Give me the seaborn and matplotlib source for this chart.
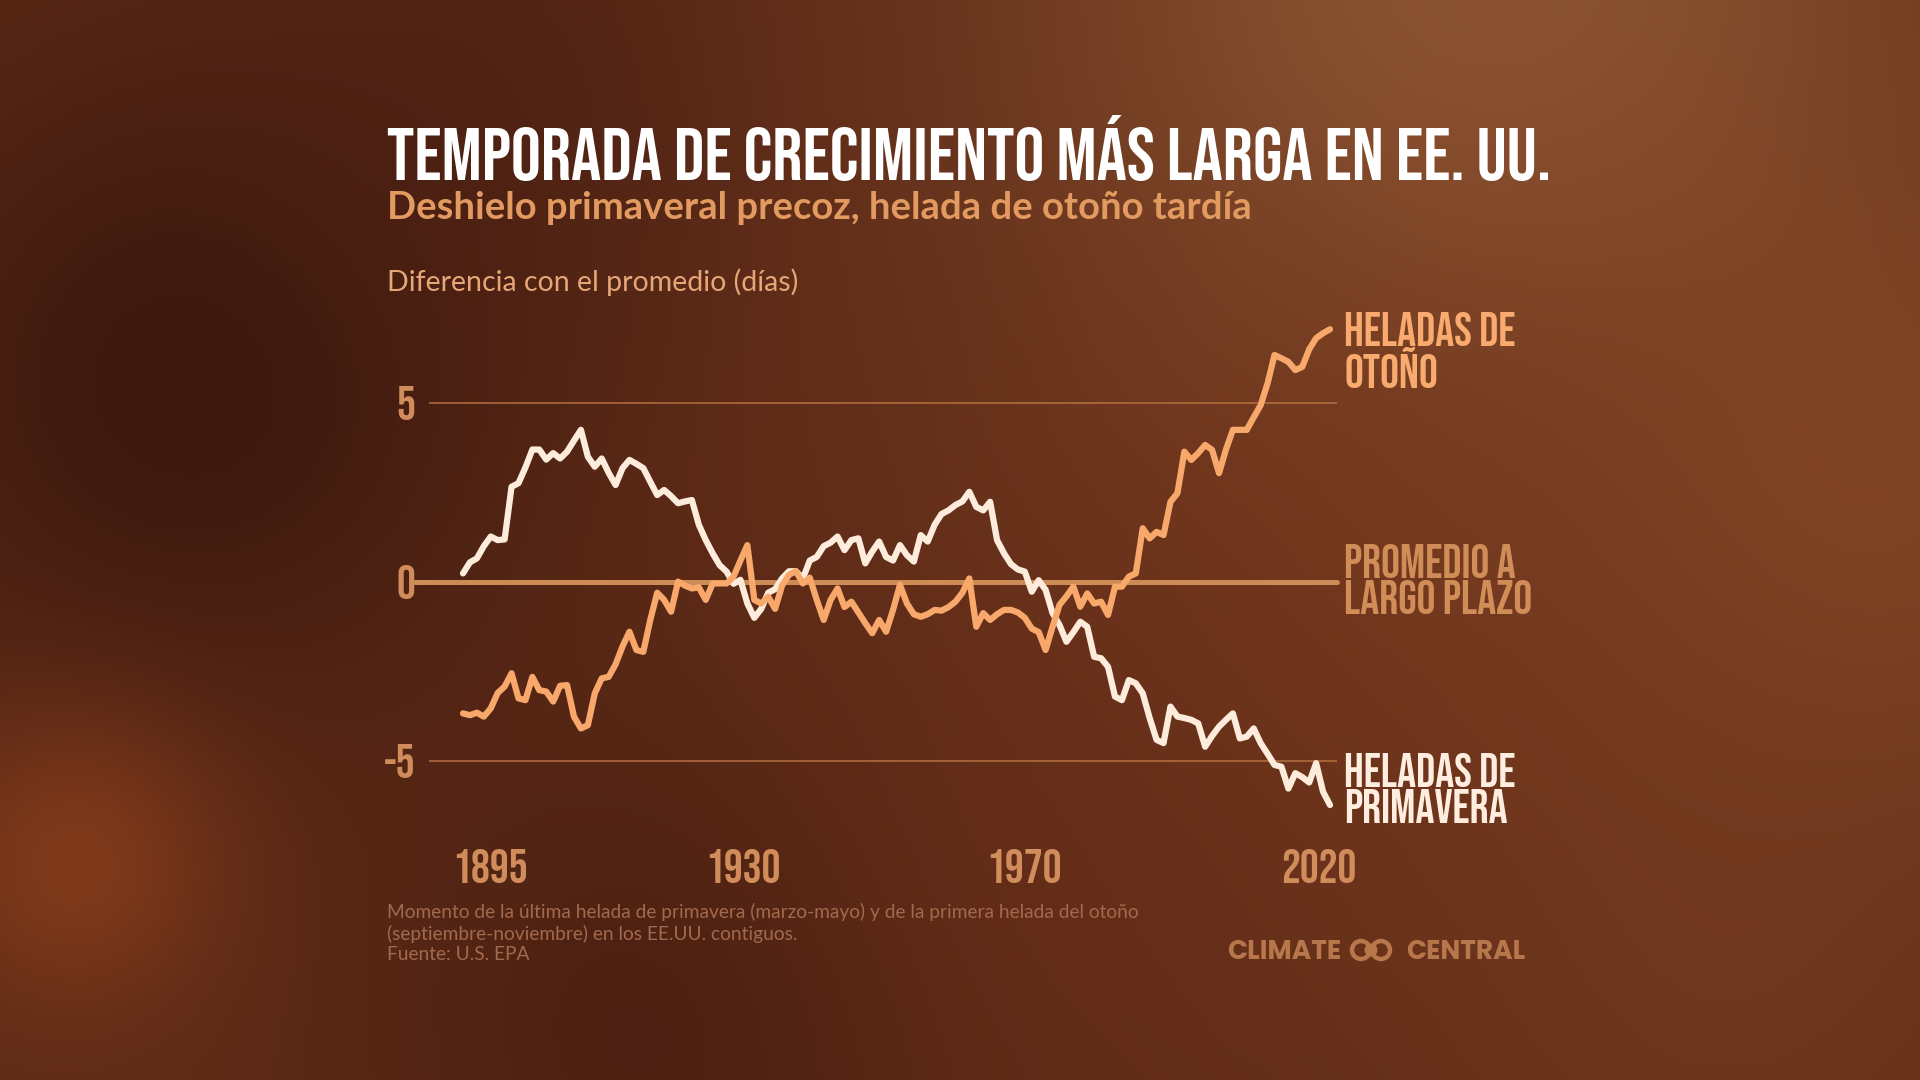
import os
import numpy as np
import pandas as pd
import matplotlib
matplotlib.use("Agg")
import matplotlib.pyplot as plt
from matplotlib import font_manager as fm
from matplotlib.patches import Circle
import seaborn as sns

# ---------------- data ----------------
years = list(range(1895, 2021))
spring_frost = [
    0.24, 0.55, 0.66, 1.00, 1.27,
    1.17, 1.19, 2.66, 2.76, 3.20, 3.70, 3.70, 3.42, 3.60, 3.45,
    3.64, 3.95, 4.25, 3.50, 3.22, 3.45, 3.05, 2.71, 3.18, 3.41,
    3.30, 3.18, 2.80, 2.43, 2.57, 2.40, 2.20, 2.25, 2.29, 1.60,
    1.17, 0.80, 0.47, 0.29, -0.05, 0.06, -0.60, -1.00, -0.75, -0.30,
    -0.20, 0.10, 0.30, 0.30, 0.10, 0.60, 0.70, 1.00, 1.10, 1.27,
    0.89, 1.17, 1.22, 0.52, 0.85, 1.13, 0.70, 0.60, 1.03, 0.75,
    0.57, 1.31, 1.13, 1.60, 1.90, 2.00, 2.15, 2.25, 2.52, 2.10,
    2.00, 2.24, 1.17, 0.80, 0.50, 0.35, 0.29, -0.27, 0.05, -0.22,
    -0.87, -1.20, -1.67, -1.40, -1.11, -1.25, -2.09, -2.13, -2.37, -3.20,
    -3.30, -2.74, -2.83, -3.11, -3.80, -4.41, -4.50, -3.48, -3.76, -3.80,
    -3.85, -3.95, -4.60, -4.30, -4.04, -3.85, -3.67, -4.37, -4.32, -4.09,
    -4.50, -4.80, -5.11, -5.16, -5.77, -5.34, -5.45, -5.60, -5.06, -5.86,
    -6.23,
]
autumn_frost = [
    -3.67, -3.72, -3.65, -3.76, -3.53,
    -3.10, -2.92, -2.55, -3.25, -3.30, -2.65, -3.02, -3.06, -3.34, -2.90,
    -2.88, -3.76, -4.09, -4.00, -3.11, -2.69, -2.65, -2.30, -1.80, -1.39,
    -1.90, -1.95, -1.06, -0.30, -0.50, -0.83, 0.01, -0.10, -0.18, -0.15,
    -0.50, -0.04, -0.04, -0.04, 0.15, 0.60, 1.03, -0.50, -0.60, -0.41,
    -0.75, -0.10, 0.20, 0.30, -0.04, 0.12, -0.50, -1.06, -0.50, -0.18,
    -0.70, -0.55, -0.85, -1.15, -1.43, -1.06, -1.39, -0.78, -0.08, -0.60,
    -0.90, -0.97, -0.90, -0.78, -0.80, -0.70, -0.55, -0.30, 0.10, -1.25,
    -0.87, -1.06, -0.90, -0.78, -0.78, -0.85, -1.00, -1.30, -1.40, -1.90,
    -1.25, -0.64, -0.40, -0.13, -0.69, -0.32, -0.60, -0.55, -0.92, -0.13,
    -0.13, 0.15, 0.24, 1.50, 1.22, 1.40, 1.31, 2.24, 2.48, 3.64,
    3.41, 3.60, 3.83, 3.69, 3.04, 3.70, 4.25, 4.25, 4.25, 4.60,
    4.94, 5.55, 6.34, 6.25, 6.15, 5.92, 6.01, 6.50, 6.81, 6.95,
    7.06,
]
y_ticks = [-5, 0, 5]
y_tick_labels = ["-5", "0", "5"]
x_tick_labels = ["1895", "1930", "1970", "2020"]
x_tick_pos = [1898.9, 1935.4, 1975.9, 2018.4]

title = "TEMPORADA DE CRECIMIENTO MÁS LARGA EN EE. UU."
subtitle = "Deshielo primaveral precoz, helada de otoño tardía"
axis_title = "Diferencia con el promedio (días)"
footer = ("Momento de la última helada de primavera (marzo-mayo) y de la primera helada del otoño\n"
          "(septiembre-noviembre) en los EE.UU. contiguos.\n"
          "Fuente: U.S. EPA")
series_labels = {"autumn": "HELADAS DE\nOTOÑO", "zero": "PROMEDIO A\nLARGO PLAZO",
                 "spring": "HELADAS DE\nPRIMAVERA"}

df = pd.DataFrame({
    "year": years * 2,
    "value": spring_frost + autumn_frost,
    "series": ["spring"] * len(years) + ["autumn"] * len(years),
})

# ---------------- fonts ----------------
sns.set_theme(style="white")
avail = {f.name for f in fm.fontManager.ttflist}
COND = next((n for n in ["Bebas Neue", "League Gothic", "Oswald", "Fjalla One", "Roboto Condensed"]
             if n in avail), "DejaVu Sans")
COND_W = "normal" if COND in ("Bebas Neue", "League Gothic", "Fjalla One") else "bold"


def static_bold(cands):
    for n in cands:
        for f in fm.fontManager.ttflist:
            if f.name == n and f.weight == 700 and "[" not in os.path.basename(f.fname) \
                    and "italic" not in f.style:
                return n
    return "DejaVu Sans"


LOGO = static_bold(["Montserrat", "Poppins", "Lato"])
plt.rcParams["font.family"] = ["Lato", "DejaVu Sans"]
cond_fam = [COND, "DejaVu Sans"]

W, H = 1920, 1080
fig = plt.figure(figsize=(19.2, 10.8), dpi=100)

# ---------------- background ----------------
gx, gy = np.meshgrid(np.linspace(0, 1, 480), np.linspace(0, 1, 270))
img = np.zeros((270, 480, 3))
img[:] = np.array([94, 43, 23]) / 255.0
blobs = [
    ((0.10, 0.35), 0.16, 0.85, (54, 21, 13)),
    ((0.25, 0.10), 0.12, 0.6, (74, 31, 18)),
    ((0.78, 0.00), 0.22, 0.85, (148, 92, 56)),
    ((0.97, 0.45), 0.18, 0.8, (135, 74, 40)),
    ((0.70, 0.55), 0.18, 0.6, (120, 58, 30)),
    ((0.04, 0.80), 0.07, 0.8, (138, 62, 28)),
    ((0.35, 0.95), 0.14, 0.7, (66, 27, 15)),
    ((0.55, 0.80), 0.15, 0.5, (104, 46, 25)),
    ((0.90, 0.92), 0.15, 0.6, (118, 60, 33)),
]
for (cx, cy), s, a, col in blobs:
    w = a * np.exp(-(((gx - cx) * 1.78) ** 2 + (gy - cy) ** 2) / (2 * (s * 1.4) ** 2))
    img = img * (1 - w[..., None]) + (np.array(col) / 255.0) * w[..., None]
bg = fig.add_axes([0, 0, 1, 1], zorder=-10)
bg.imshow(img, aspect="auto", extent=[0, 1, 0, 1], interpolation="bicubic")
bg.axis("off")

# ---------------- main axes ----------------
px_left, px_right = 429, 1337          # grid line extent (px)
x_first, x_last = 463, 1330            # first / last data point (px)
y_zero, px_per_unit = 582, 35.8
ppy = (x_last - x_first) / (years[-1] - years[0])
xlim = (years[0] - (x_first - px_left) / ppy, years[0] + (px_right - x_first) / ppy)
ylim = (-7.2, 8.5)
ax_top = y_zero - ylim[1] * px_per_unit
ax_bot = y_zero - ylim[0] * px_per_unit
ax = fig.add_axes([px_left / W, 1 - ax_bot / H, (px_right - px_left) / W, (ax_bot - ax_top) / H])
ax.set_facecolor("none")
ax.set_xlim(*xlim)
ax.set_ylim(*ylim)

grid_col = "#B5703F"
zero_col = "#CD8B55"
for v in (5, -5):
    ax.axhline(v, color=grid_col, lw=1.1, zorder=1)
ax.axhline(0, xmin=-(px_left - 415) / (px_right - px_left), xmax=1, color=zero_col,
           lw=3.6, zorder=1, clip_on=False)

sns.lineplot(data=df, x="year", y="value", hue="series", hue_order=["spring", "autumn"],
             palette={"spring": "#FDEBDC", "autumn": "#F9A86C"}, estimator=None,
             linewidth=4.5, legend=False, ax=ax, zorder=3,
             solid_capstyle="round", solid_joinstyle="round")

for s in ax.spines.values():
    s.set_visible(False)
ax.set_xlabel("")
ax.set_ylabel("")
ax.set_yticks(y_ticks)
ax.set_yticklabels(y_tick_labels)
ax.set_xticks(x_tick_pos)
ax.set_xticklabels(x_tick_labels)
ax.tick_params(axis="both", length=0, colors="#D08D5B")
ax.tick_params(axis="y", pad=10)
ax.tick_params(axis="x", pad=7)
for lab in ax.get_yticklabels() + ax.get_xticklabels():
    lab.set_family(cond_fam)
    lab.set_fontweight(COND_W)
    lab.set_fontsize(34)
    lab.set_color("#D08D5B")

# ---------------- texts ----------------
def ftext(xp, yp, s, **kw):
    return fig.text(xp / W, 1 - yp / H, s, **kw)

ftext(387, 180, title, family=cond_fam, fontweight=COND_W, fontsize=54, color="white",
      va="baseline", ha="left")
ftext(387, 219, subtitle, fontsize=27.5, fontweight="bold", color="#E29A60",
      va="baseline", ha="left")
ftext(387, 291, axis_title, fontsize=20.5, color="#E6A677", va="baseline", ha="left")

label_specs = [("autumn", 350, "#F9AA6E"), ("zero", 579, "#D08D58"), ("spring", 788, "#FFEEDF")]
for key, yc, col in label_specs:
    ftext(1344, yc, series_labels[key], family=cond_fam, fontweight=COND_W, fontsize=34,
          color=col, va="center", ha="left", linespacing=1.03)

ftext(387, 903, footer, fontsize=13.8, color="#A3694C", va="top", ha="left", linespacing=1.25)

# logo
logo_col = "#B8764B"
ftext(1341, 959, "CLIMATE", family=[LOGO, "DejaVu Sans"], fontsize=19, fontweight="bold",
      color=logo_col, ha="right", va="baseline")
ftext(1406, 959, "CENTRAL", family=[LOGO, "DejaVu Sans"], fontsize=19, fontweight="bold",
      color=logo_col, ha="left", va="baseline")
cy_in = (H - 950) / 100
for cx_px in (1361, 1381):
    fig.add_artist(Circle((cx_px / 100, cy_in), 0.09, transform=fig.dpi_scale_trans,
                          fill=False, ec=logo_col, lw=3.2))
fig.add_artist(Circle((1371 / 100, cy_in), 0.065, transform=fig.dpi_scale_trans,
                      fc=logo_col, ec="none"))

fig.savefig("out.png", dpi=100)
